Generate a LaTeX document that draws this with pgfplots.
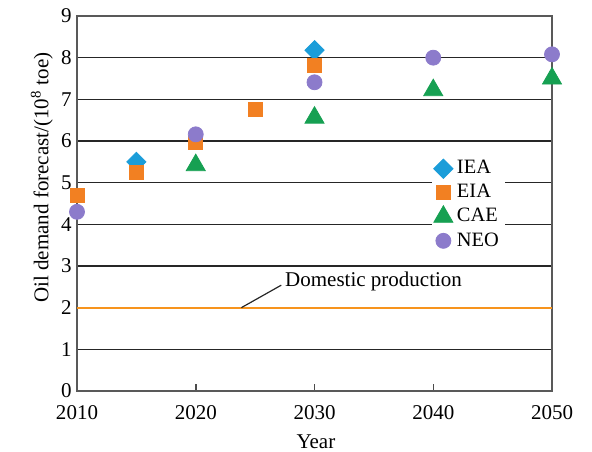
\documentclass[border=0pt]{standalone}
\usepackage{pgfplots}
\pgfplotsset{compat=1.18}
\usepackage{fontspec}
\setmainfont{Liberation Serif}
\definecolor{ieac}{HTML}{1B9DD9}
\definecolor{eiac}{HTML}{F28022}
\definecolor{caec}{HTML}{16A052}
\definecolor{neoc}{HTML}{8C7BCB}
\definecolor{domc}{HTML}{F7941D}
\begin{document}
\fontsize{10.5}{12.6}\selectfont
\begin{tikzpicture}[font=\fontsize{10.5}{12.6}\selectfont]
\useasboundingbox (-38.5pt,-30pt) rectangle (257.5pt,195.5pt);
\begin{axis}[
  at={(0,0)}, anchor=south west,
  scale only axis, width=237.5pt, height=187.5pt,
  xmin=2010, xmax=2050, ymin=0, ymax=9,
  xtick={2010,2020,2030,2040,2050},
  xticklabels={\textrm{2010},\textrm{2020},\textrm{2030},\textrm{2040},\textrm{2050}},
  ytick={0,1,2,3,4,5,6,7,8,9},
  yticklabels={\textrm{0},\textrm{1},\textrm{2},\textrm{3},\textrm{4},\textrm{5},\textrm{6},\textrm{7},\textrm{8},\textrm{9}},
  xticklabel style={yshift=-3.5pt},
  yticklabel style={xshift=1pt},
  ymajorgrids,
  major grid style={draw=black!85, line width=0.8pt},
  axis line style={draw=black!65, line width=0.75pt},
  tick align=inside, xtick pos=bottom, ytick pos=left,
  major tick length=3.5pt,
  xtick style={draw=black!70, line width=0.75pt},
  ytick style={draw=none},
  clip=false,
  xlabel={Year},
  xlabel style={at={(axis description cs:0.503,-0.136)}, anchor=center},
  ylabel={Oil demand forecast/(10\textsuperscript{8} toe)},
  ylabel style={at={(axis description cs:-0.074,0.569)}, anchor=center},
  legend style={at={(axis description cs:0.746,0.632)}, anchor=north west,
    draw=none, fill=white, inner xsep=1pt, inner ysep=1pt, row sep=-0.3pt,
    font=\fontsize{10.2}{12}\selectfont},
  legend cell align=left,
]
\addplot[domc, line width=1pt, forget plot] coordinates {(2010,2) (2050,2)};
\addplot[only marks, mark=square*, mark size=3.4pt, mark options={rotate=45, fill=ieac, draw=ieac}]
  coordinates {(2015,5.5) (2030,8.18)};
\addlegendentry{IEA\hspace{3pt}}
\addplot[only marks, mark=square*, mark size=3.5pt, mark options={fill=eiac, draw=eiac}]
  coordinates {(2010,4.69) (2015,5.24) (2020,5.96) (2025,6.77) (2030,7.82)};
\addlegendentry{EIA}
\addplot[only marks, mark=triangle*, mark size=5.5pt, mark options={fill=caec, draw=caec}]
  coordinates {(2020,5.42) (2030,6.56) (2040,7.22) (2050,7.50)};
\addlegendentry{CAE}
\addplot[only marks, mark=*, mark size=3.75pt, mark options={fill=neoc, draw=neoc}]
  coordinates {(2010,4.30) (2020,6.16) (2030,7.41) (2040,8.0) (2050,8.08)};
\addlegendentry{NEO}
\draw[black!85, line width=0.6pt] (axis cs:2023.84,2) -- (axis cs:2027.2,2.54);
\node[anchor=west, inner sep=0pt] at (axis cs:2027.5,2.62) {Domestic production};
\end{axis}
\end{tikzpicture}
\end{document}
